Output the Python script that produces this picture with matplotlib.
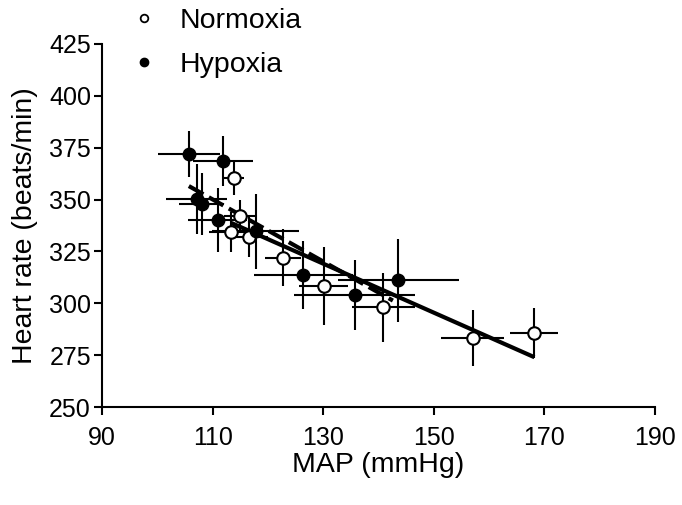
import matplotlib.pyplot as plt
from matplotlib.lines import Line2D

plt.rcParams['font.family'] = ['Liberation Sans', 'DejaVu Sans']

# Normoxia (open circles)
norm_x = [113.9, 113.4, 115.0, 116.5, 122.7, 130.1, 140.9, 157.0, 168.1]
norm_y = [360.2, 334.2, 342.0, 331.8, 321.9, 308.3, 298.0, 283.1, 285.5]
norm_xerr = [1.8, 4.0, 3.0, 3.5, 3.2, 4.4, 5.7, 5.7, 4.3]
norm_yerr = [8.0, 9.6, 8.0, 9.6, 13.7, 19.0, 16.8, 13.5, 12.0]

# Hypoxia (filled circles)
hyp_x = [105.7, 111.9, 107.1, 108.0, 110.9, 117.8, 126.4, 135.7, 143.6]
hyp_y = [372.0, 368.5, 350.3, 348.0, 340.1, 334.7, 313.6, 304.0, 311.2]
hyp_xerr = [5.6, 5.4, 5.5, 4.0, 5.4, 7.9, 8.9, 10.9, 11.0]
hyp_yerr = [11.2, 12.0, 17.0, 15.0, 15.6, 18.0, 16.5, 17.0, 20.0]

# regression lines (end points)
norm_fit_x = [113.4, 168.2]
norm_fit_y = [338.7, 274.0]
hyp_fit_x = [105.7, 142.6]
hyp_fit_y = [356.5, 301.3]

fig = plt.figure(figsize=(6.82, 5.05), dpi=100)
ax = fig.add_axes([0.1496, 0.194, 0.8108, 0.719])

ax.errorbar(norm_x, norm_y, xerr=norm_xerr, yerr=norm_yerr, fmt='none',
            ecolor='black', elinewidth=1.5, capsize=0, zorder=2)
ax.errorbar(hyp_x, hyp_y, xerr=hyp_xerr, yerr=hyp_yerr, fmt='none',
            ecolor='black', elinewidth=1.5, capsize=0, zorder=2)

ax.plot(norm_fit_x, norm_fit_y, color='black', lw=3, solid_capstyle='butt', zorder=3)
ax.plot(hyp_fit_x, hyp_fit_y, color='black', lw=3, ls=(0, (4, 1.5)), zorder=3)

ax.plot(norm_x, norm_y, 'o', ms=9, mfc='white', mec='black', mew=1.5, zorder=4)
ax.plot(hyp_x, hyp_y, 'o', ms=9, mfc='black', mec='black', zorder=4)

ax.set_xlim(90, 190)
ax.set_ylim(250, 425)
ax.set_xticks([90, 110, 130, 150, 170, 190])
ax.set_yticks([250, 275, 300, 325, 350, 375, 400, 425])

for s in ['top', 'right']:
    ax.spines[s].set_visible(False)
for s in ['left', 'bottom']:
    ax.spines[s].set_linewidth(1.5)
ax.tick_params(width=1.5, length=6, labelsize=18)
ax.tick_params(axis='x', pad=8)
ax.tick_params(axis='y', pad=2)

ax.set_xlabel('MAP (mmHg)', fontsize=20.5, labelpad=1)
ax.set_ylabel('Heart rate (beats/min)', fontsize=20.5, labelpad=8)

handles = [
    Line2D([], [], ls='none', marker='o', ms=5.5, mfc='white', mec='black', mew=1.3),
    Line2D([], [], ls='none', marker='o', ms=6, mfc='black', mec='black'),
]
fig.legend(handles, ['Normoxia', 'Hypoxia'], loc='upper left',
           bbox_to_anchor=(0.132, 1.035), frameon=False, fontsize=20.5,
           handletextpad=0.25, labelspacing=0.65)

fig.savefig('out.png', dpi=100)
